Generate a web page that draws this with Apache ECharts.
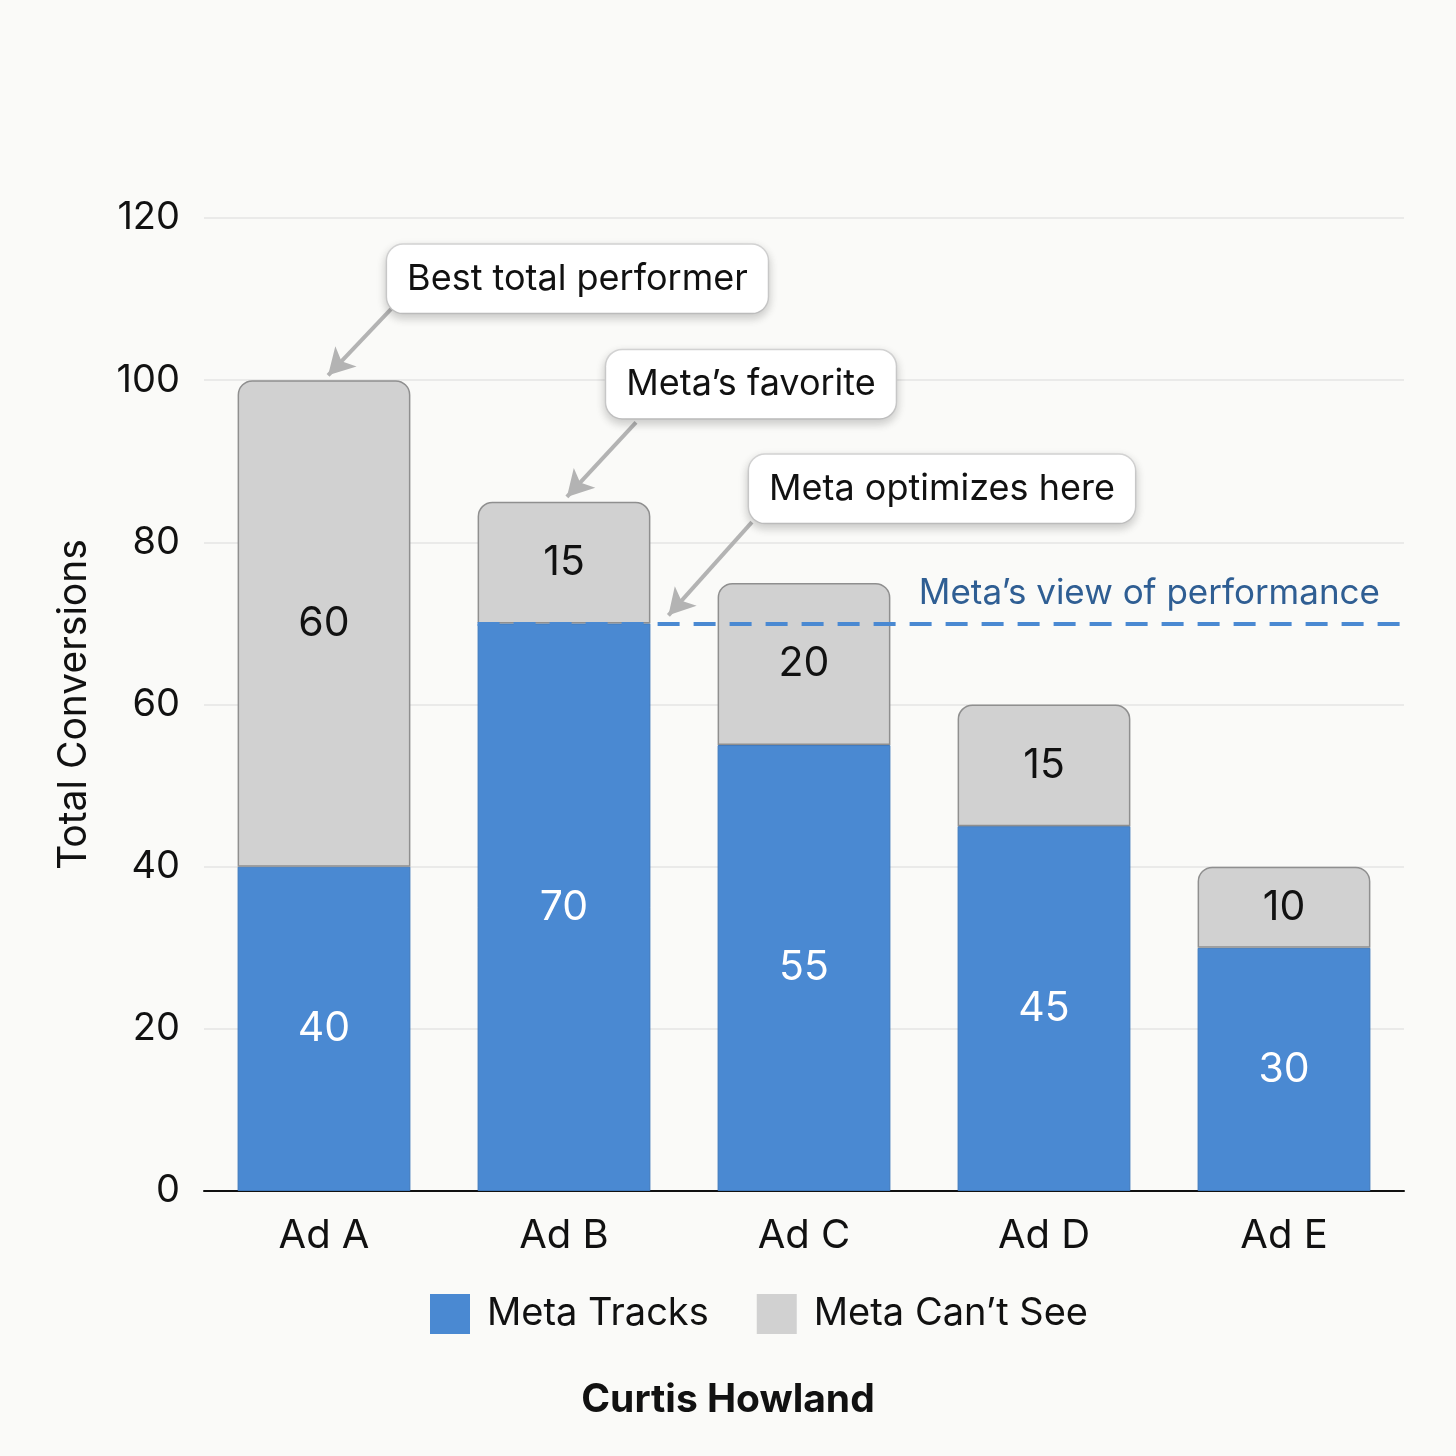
<!DOCTYPE html>
<html>
<head>
<meta charset="utf-8">
<script src="https://cdn.jsdelivr.net/npm/echarts@6/dist/echarts.min.js"></script>
<style>
  html, body { margin: 0; padding: 0; background: #fafaf8; }
  #main { width: 1456px; height: 1456px; }
</style>
</head>
<body>
<div id="main"></div>
<script>
// chart data
var categories = ['Ad A', 'Ad B', 'Ad C', 'Ad D', 'Ad E']
var metaTracks = [40, 70, 55, 45, 30]
var metaCantSee = [60, 15, 20, 15, 10]
var yTicks = [0, 20, 40, 60, 80, 100, 120]
var metaView = 70
var notes = ['Best total performer', 'Meta’s favorite', 'Meta optimizes here']

// annotation anchors, in (category index as value, conversions)
var noteBox = [[1.556, 112.5], [2.279, 99.5], [3.075, 86.6]]
var noteArrow = [
  [[0.783, 108.9], [0.517, 100.6]],
  [[1.800, 94.8], [1.512, 85.6]],
  [[2.283, 82.5], [1.935, 71.0]]
]

var FONT = 'Inter, "Noto Sans", sans-serif'
var BLUE = '#4a89d2'
var GREY = '#d1d1d1'

var dom = document.getElementById('main')
var myChart = echarts.init(dom)

var boxPoints = notes.map(function (t, i) {
  return { coord: noteBox[i], value: t }
})
var arrowLines = noteArrow.map(function (a) {
  return [{ coord: a[0] }, { coord: a[1] }]
})

var option = {
  backgroundColor: '#fafaf8',
  animation: false,
  textStyle: { fontFamily: FONT },
  title: {
    text: 'Curtis Howland',
    left: 'center',
    top: 1376,
    textStyle: { fontFamily: FONT, fontSize: 39, fontWeight: 'bold', color: '#111' }
  },
  legend: {
    data: ['Meta Tracks', 'Meta Can’t See'],
    left: 425,
    top: 1289,
    itemWidth: 40,
    itemHeight: 40,
    itemGap: 48,
    icon: 'rect',
    itemStyle: { borderWidth: 0 },
    textStyle: { fontFamily: FONT, fontSize: 38, color: '#111', padding: [0, 0, 0, 12] }
  },
  grid: { left: 204, right: 52, top: 218, bottom: 265 },
  xAxis: [
    {
      type: 'category',
      data: categories,
      axisLine: { lineStyle: { color: '#111', width: 2 } },
      axisTick: { show: false },
      axisLabel: { fontFamily: FONT, fontSize: 40, color: '#111', margin: 25 }
    },
    {
      type: 'value',
      min: 0,
      max: 5,
      show: false
    }
  ],
  yAxis: {
    type: 'value',
    min: yTicks[0],
    max: yTicks[yTicks.length - 1],
    interval: 20,
    name: 'Total Conversions',
    nameLocation: 'middle',
    nameGap: 110,
    nameTextStyle: { fontFamily: FONT, fontSize: 39, color: '#111' },
    axisLine: { show: false },
    axisTick: { show: false },
    axisLabel: { fontFamily: FONT, fontSize: 38, color: '#111', margin: 24 },
    splitLine: { lineStyle: { color: '#e4e4e4', width: 1.5 } }
  },
  series: [
    {
      name: 'Meta Tracks',
      type: 'bar',
      stack: 'total',
      barWidth: '72%',
      data: metaTracks,
      itemStyle: { color: BLUE, borderColor: '#3f78bb', borderWidth: 1 },
      label: {
        show: true,
        position: 'inside',
        fontFamily: FONT,
        fontSize: 41,
        color: '#fff'
      }
    },
    {
      name: 'Meta Can’t See',
      type: 'bar',
      stack: 'total',
      barWidth: '72%',
      data: metaCantSee,
      itemStyle: {
        color: GREY,
        borderColor: '#8f8f8f',
        borderWidth: 1.5,
        borderRadius: [14, 14, 0, 0]
      },
      label: {
        show: true,
        position: 'inside',
        fontFamily: FONT,
        fontSize: 41,
        color: '#111'
      }
    },
    {
      // Meta's view dashed line plus the callouts
      name: 'notes',
      type: 'line',
      xAxisIndex: 1,
      data: [],
      silent: true,
      markLine: {
        silent: true,
        symbol: ['none', 'none'],
        data: [
          [
            { coord: [1.14, metaView] },
            { coord: [5, metaView] }
          ]
        ],
        lineStyle: { type: [22, 14], color: '#4a89d2', width: 4 },
        label: {
          show: true,
          position: 'insideEndTop',
          formatter: 'Meta’s view of performance',
          fontFamily: FONT,
          fontSize: 35,
          color: '#2f5e93',
          distance: [24, 12]
        }
      },
      markPoint: {
        silent: true,
        symbol: 'rect',
        symbolSize: 1,
        itemStyle: { color: 'rgba(0,0,0,0)' },
        data: boxPoints,
        label: {
          show: true,
          position: 'inside',
          formatter: '{c}',
          fontFamily: FONT,
          fontSize: 36,
          color: '#111',
          backgroundColor: '#ffffff',
          borderColor: '#d8d8d8',
          borderWidth: 1.5,
          borderRadius: 16,
          padding: [16, 20, 16, 20],
          shadowBlur: 10,
          shadowOffsetY: 4,
          shadowColor: 'rgba(0,0,0,0.18)'
        }
      }
    },
    {
      name: 'arrows',
      type: 'line',
      xAxisIndex: 1,
      data: [],
      silent: true,
      z: 1,
      markLine: {
        silent: true,
        symbol: ['none', 'arrow'],
        symbolSize: [22, 26],
        data: arrowLines,
        lineStyle: { type: 'solid', color: '#b3b3b3', width: 4 },
        label: { show: false }
      }
    }
  ]
}

if (option && typeof option === 'object') {
  myChart.setOption(option, true)
}
</script>
</body>
</html>
